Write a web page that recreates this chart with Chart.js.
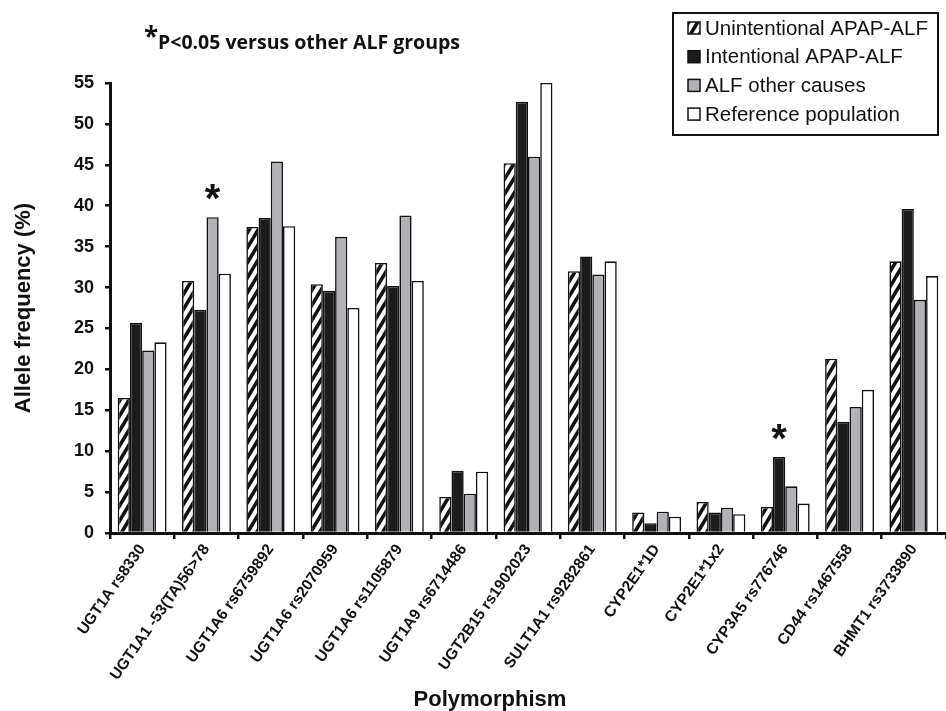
<!DOCTYPE html>
<html>
<head>
<meta charset="utf-8">
<script src="https://cdn.jsdelivr.net/npm/chart.js@4.4.1/dist/chart.umd.min.js"></script>
<style>
  html, body { margin: 0; padding: 0; background: #fff; }
  #wrap { width: 946px; height: 711px; }
</style>
</head>
<body>
<div id="wrap"><canvas id="chartAlleles" width="946" height="711"></canvas></div>
<script>
// polymorphisms on the x axis
var categories = ['UGT1A rs8330', 'UGT1A1 -53(TA)56>78', 'UGT1A6 rs6759892', 'UGT1A6 rs2070959',
  'UGT1A6 rs1105879', 'UGT1A9 rs6714486', 'UGT2B15 rs1902023', 'SULT1A1 rs9282861',
  'CYP2E1*1D', 'CYP2E1*1x2', 'CYP3A5 rs776746', 'CD44 rs1467558', 'BHMT1 rs3733890'];

var seriesNames = ['Unintentional APAP-ALF', 'Intentional APAP-ALF', 'ALF other causes', 'Reference population'];

// allele frequency (%)
var unintentional = [16.5, 30.8, 37.4, 30.4, 33.0, 4.4, 45.2, 32.0, 2.5, 3.8, 3.2, 21.3, 33.2];
var intentional   = [25.7, 27.3, 38.5, 29.6, 30.2, 7.6, 52.7, 33.8, 1.2, 2.5, 9.3, 13.6, 39.6];
var otherCauses   = [22.3, 38.6, 45.4, 36.2, 38.8, 4.8, 46.0, 31.6, 2.6, 3.1, 5.7, 15.4, 28.5];
var reference     = [23.3, 31.7, 37.5, 27.5, 30.8, 7.5, 55.0, 33.2, 2.0, 2.3, 3.6, 17.5, 31.4];

// [category index, series index] flagged with *
var starMarks = [[1, 2], [10, 1]];

var yMin = 0, yMax = 55, yStep = 5;

// diagonal hatch for the first series
function makeHatch() {
  var w = 9, h = 15;
  var c = document.createElement('canvas');
  c.width = w; c.height = h;
  var g = c.getContext('2d');
  g.fillStyle = '#fff';
  g.fillRect(0, 0, w, h);
  g.strokeStyle = '#111';
  g.lineWidth = 3.6;
  for (var k = 0; k <= 2; k++) {
    g.beginPath();
    g.moveTo((k + 1) * w, -h);
    g.lineTo((k - 2) * w, 2 * h);
    g.stroke();
  }
  return document.getElementById('chartAlleles').getContext('2d').createPattern(c, 'repeat');
}

var hatch = makeHatch();
var fills = [hatch, '#1c1c1c', '#b1b2b5', '#ffffff'];
var seriesData = [unintentional, intentional, otherCauses, reference];

var datasets = [];
for (var i = 0; i < seriesNames.length; i++) {
  datasets.push({
    label: seriesNames[i],
    data: seriesData[i],
    backgroundColor: fills[i],
    borderColor: '#111',
    borderWidth: 1.6,
    barPercentage: 1.0,
    categoryPercentage: 0.76
  });
}

var extras = {
  id: 'extras',
  afterDatasetsDraw: function(chart) {
    var ctx = chart.ctx;
    ctx.save();
    ctx.fillStyle = '#111';
    ctx.textAlign = 'center';
    ctx.textBaseline = 'middle';
    ctx.font = 'bold 40px "Liberation Sans", Arial';
    starMarks.forEach(function(m) {
      var el = chart.getDatasetMeta(m[1]).data[m[0]];
      ctx.fillText('*', el.x, el.y - 16);
    });
    ctx.restore();
  },
  afterDraw: function(chart) {
    var ctx = chart.ctx;
    ctx.save();
    ctx.fillStyle = '#111';
    // note at top left
    ctx.textBaseline = 'alphabetic';
    ctx.textAlign = 'left';
    ctx.font = 'bold 26px "Open Sans"';
    ctx.fillText('*', 144, 46);
    ctx.font = 'bold 19.5px "Open Sans"';
    ctx.fillText('P<0.05 versus other ALF groups', 158, 49);

    // x axis title
    ctx.textAlign = 'center';
    ctx.font = 'bold 22px "Liberation Sans", Arial';
    ctx.fillText('Polymorphism', 490, 706);

    // legend box
    var bx = 673, by = 13, bw = 265, bh = 122;
    ctx.lineWidth = 2;
    ctx.strokeStyle = '#111';
    ctx.fillStyle = '#fff';
    ctx.fillRect(bx, by, bw, bh);
    ctx.strokeRect(bx, by, bw, bh);
    ctx.font = '20.5px "Liberation Sans", Arial';
    ctx.textAlign = 'left';
    ctx.textBaseline = 'middle';
    chart.data.datasets.forEach(function(ds, j) {
      var cy = 28 + j * 28.7;
      ctx.fillStyle = ds.backgroundColor;
      ctx.fillRect(688, cy - 6, 12, 12);
      ctx.lineWidth = 1.5;
      ctx.strokeRect(688, cy - 6, 12, 12);
      ctx.fillStyle = '#111';
      ctx.fillText(ds.label, 705, cy + 1);
    });
    ctx.restore();
  }
};

var ctx = document.getElementById('chartAlleles').getContext('2d');
var barGraph = new Chart(ctx, {
  type: 'bar',
  data: { labels: categories, datasets: datasets },
  options: {
    responsive: false,
    animation: false,
    devicePixelRatio: 1,
    layout: { padding: { top: 83, left: 0, right: 0, bottom: 0 } },
    plugins: {
      legend: { display: false },
      tooltip: { enabled: false }
    },
    scales: {
      x: {
        afterFit: function(scale) { scale.height = 178; },
        grid: { display: true, drawOnChartArea: false, drawTicks: true, tickLength: 6, color: '#111', lineWidth: 2.5, offset: true },
        border: { display: true, color: '#111', width: 3 },
        ticks: {
          color: '#111', autoSkip: false, minRotation: 55, maxRotation: 55, padding: 2,
          font: { family: '"Liberation Sans", Arial', size: 15.5, weight: 'bold' }
        }
      },
      y: {
        min: yMin, max: yMax,
        afterFit: function(scale) { scale.width = 110; },
        grid: { display: true, drawOnChartArea: false, drawTicks: true, tickLength: 5, color: '#111', lineWidth: 2.5 },
        border: { display: true, color: '#111', width: 3 },
        ticks: {
          stepSize: yStep, color: '#111', padding: 11,
          font: { family: '"Liberation Sans", Arial', size: 18, weight: 'bold' }
        },
        title: {
          display: true, text: 'Allele frequency (%)', color: '#111',
          padding: { top: 13, bottom: 0 },
          font: { family: '"Liberation Sans", Arial', size: 22, weight: 'bold', lineHeight: 1 }
        }
      }
    }
  },
  plugins: [extras]
});
</script>
</body>
</html>
